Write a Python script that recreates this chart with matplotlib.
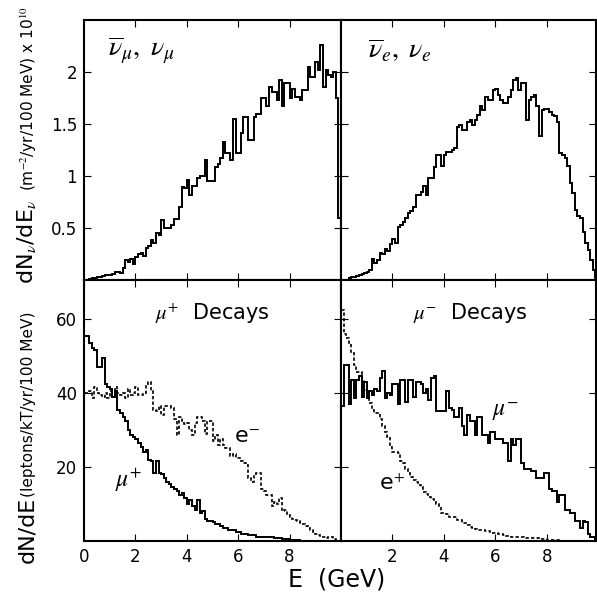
import matplotlib.pyplot as plt
import numpy as np

plt.rcParams['font.family'] = 'DejaVu Sans'
plt.rcParams['mathtext.fontset'] = 'stix'

# 100 MeV bins, 0 - 10 GeV
edges = np.linspace(0, 10, 101)

# neutrino fluxes (x 10^10 m^-2/yr/100 MeV)
numu = [0.0, 0.0, 0.01, 0.02, 0.02, 0.03, 0.03, 0.04, 0.05, 0.05,
        0.05, 0.06, 0.08, 0.08, 0.07, 0.12, 0.19, 0.17, 0.20, 0.15,
        0.22, 0.25, 0.26, 0.23, 0.31, 0.33, 0.38, 0.36, 0.45, 0.43,
        0.58, 0.50, 0.50, 0.50, 0.53, 0.59, 0.59, 0.70, 0.89, 0.88,
        0.96, 0.82, 0.90, 0.90, 0.98, 1.00, 1.00, 1.15, 0.95, 0.95,
        0.95, 1.09, 1.12, 1.17, 1.33, 1.22, 1.22, 1.15, 1.55, 1.22,
        1.22, 1.41, 1.57, 1.57, 1.35, 1.35, 1.57, 1.60, 1.60, 1.75,
        1.75, 1.67, 1.86, 1.81, 1.81, 1.73, 1.92, 1.67, 1.89, 1.89,
        1.75, 1.84, 1.76, 1.76, 1.73, 1.83, 1.83, 2.05, 1.95, 1.95,
        2.10, 2.02, 2.26, 1.86, 2.02, 1.97, 1.95, 2.00, 1.75, 0.60]
nue = [0.0, 0.0, 0.0, 0.02, 0.03, 0.03, 0.04, 0.05, 0.06, 0.07,
       0.08, 0.10, 0.20, 0.16, 0.19, 0.26, 0.25, 0.30, 0.28, 0.35,
       0.39, 0.36, 0.51, 0.53, 0.56, 0.60, 0.64, 0.66, 0.70, 0.82,
       0.82, 0.85, 0.90, 0.82, 0.98, 0.98, 1.09, 1.20, 1.20, 1.10,
       1.20, 1.23, 1.23, 1.25, 1.27, 1.47, 1.49, 1.44, 1.44, 1.52,
       1.54, 1.49, 1.54, 1.59, 1.67, 1.63, 1.76, 1.73, 1.73, 1.83,
       1.84, 1.78, 1.73, 1.70, 1.70, 1.76, 1.83, 1.92, 1.94, 1.83,
       1.89, 1.89, 1.54, 1.73, 1.76, 1.78, 1.67, 1.38, 1.63, 1.64,
       1.64, 1.62, 1.59, 1.58, 1.52, 1.22, 1.20, 1.17, 1.10, 0.93,
       0.84, 0.67, 0.62, 0.60, 0.46, 0.36, 0.29, 0.19, 0.10, 0.02]

# lepton spectra (leptons/kT/yr/100 MeV)
mup_mup = [55.5, 55.5, 53.5, 52, 51.5, 47, 47, 49.5, 42.5, 41.5,
           41, 39, 40.5, 35.5, 34.5, 33.5, 32.5, 30, 28.5, 28,
           27.5, 26.5, 25.5, 24, 24.5, 22, 21.5, 18.5, 21.5, 18.5,
           18, 17, 16, 15.5, 14.5, 14, 13.5, 12.5, 13, 11.5,
           10, 11, 9.5, 8.5, 11, 7.5, 8, 6, 5.5, 5.5,
           5, 4.5, 4.5, 4, 3.5, 3.5, 3, 3, 3, 2.5,
           2.5, 2, 2, 2, 1.5, 1.5, 1.5, 1, 1.2, 1,
           1, 1, 1.2, 1, 0.8, 0.8, 0.7, 0.6, 0.5, 0.5,
           0.4, 0.3, 0.2, 0.2, 0.1, 0.1, 0.1, 0, 0, 0,
           0, 0, 0, 0, 0, 0, 0, 0, 0, 0]
mup_em = [40, 40, 40.5, 38.5, 41.5, 40, 39.5, 39, 40, 38.5,
          40.5, 39, 41.5, 40, 39.5, 40, 38.5, 41, 39.5, 40,
          41.5, 39.5, 39.5, 40, 42.5, 43, 40.5, 35.5, 35, 36.5,
          34, 36.5, 36.5, 36.5, 36, 33, 28.5, 33.5, 32.5, 31.5,
          32, 30, 28.5, 32, 33.5, 33.5, 32.5, 29, 32.5, 32.5,
          27, 28.5, 26, 27.5, 26, 25, 25, 23, 23.5, 22.5,
          22.5, 21.5, 21, 20.5, 17, 16, 18, 18.5, 18.5, 14,
          13.5, 12.5, 12.5, 9.5, 10.5, 10, 11.5, 8, 8.5, 7,
          6.5, 6, 5.8, 5.5, 4.8, 4.5, 4, 3.6, 3, 2.5,
          2, 1.5, 1, 1, 0.8, 1, 1, 0.5, 0, 0]
mum_mum = [36.5, 47.5, 47.5, 37, 43.5, 38.5, 43.5, 44.5, 39, 43,
           38.5, 40.5, 39.5, 41, 40.5, 44, 46, 38.5, 40, 39.5,
           42.5, 42.5, 37, 43.5, 43.5, 37.5, 43.5, 43.5, 39, 43,
           43, 42.5, 40, 41, 38, 44, 44.5, 35, 35, 35,
           35, 40.5, 36, 35.5, 33.5, 33.5, 36, 31, 28.5, 34,
           32.5, 32.5, 28.5, 33.5, 33.5, 28.5, 28.5, 26.5, 29.5, 29.5,
           27.5, 27.5, 27.5, 26.5, 26.5, 21.5, 27.5, 26, 27.5, 27.5,
           21, 19.5, 19.5, 19.5, 19, 19, 17, 17, 17, 18.5,
           18.5, 14, 13.5, 13.5, 10.5, 12.5, 12.5, 8.5, 8.5, 7.5,
           7.5, 5.5, 5.5, 3.5, 5.5, 5, 2, 1, 1, 0.2]
mum_ep = [62.5, 56, 54.8, 53.4, 50.7, 47.6, 45.7, 45.7, 43.5, 40.8,
          39, 37.2, 35.4, 34.5, 34.5, 33, 31, 29.5, 28.2, 25.5,
          24.1, 24.1, 23.7, 21.5, 21, 19.5, 18.3, 17.4, 16.5, 16,
          15.1, 14.5, 13.3, 12.8, 12, 11.3, 10.6, 10, 9.3, 7.5,
          7.5, 7.2, 6.6, 6.6, 6.6, 5.7, 5.7, 4.8, 4.8, 4.2,
          3.9, 3.5, 3.2, 3.0, 3.0, 3.0, 2.8, 2.6, 2.2, 2.1,
          2.1, 2.0, 1.8, 1.5, 1.4, 1.3, 1.2, 1.2, 1.1, 1.1,
          1.0, 0.9, 0.8, 0.8, 0.8, 0.7, 0.7, 0.6, 0.5, 0.5,
          0.4, 0.3, 0.3, 0.2, 0.2, 0.1, 0.1, 0, 0, 0,
          0, 0, 0, 0, 0, 0, 0, 0, 0, 0]

W, H = 597, 601
fig = plt.figure(figsize=(W / 100, H / 100), dpi=100)


def box(l, t, r, b):
    return [l / W, 1 - b / H, (r - l) / W, (b - t) / H]


ax_tl = fig.add_axes(box(84, 20, 341, 280))
ax_tr = fig.add_axes(box(341, 20, 596, 280))
ax_bl = fig.add_axes(box(84, 280, 341, 541))
ax_br = fig.add_axes(box(341, 280, 596, 541))

solid = dict(color='black', lw=1.4)
dashed = dict(color='black', lw=1.2, linestyle=(0, (2, 1.3)))

ax_tl.stairs(numu, edges, **solid)
ax_tr.stairs(nue, edges, **solid)
ax_bl.stairs(mup_mup, edges, **solid)
ax_bl.stairs(mup_em, edges, **dashed)
ax_br.stairs(mum_mum, edges, **solid)
ax_br.stairs(mum_ep, edges, **dashed)

for ax in (ax_tl, ax_tr, ax_bl, ax_br):
    ax.tick_params(direction='in', top=True, right=True, length=5,
                   width=0.8, labelsize=12, pad=5)
    for s in ax.spines.values():
        s.set_linewidth(1.5)

for ax in (ax_tl, ax_tr):
    ax.set_ylim(0, 2.5)
    ax.set_yticks([0.5, 1, 1.5, 2])
    ax.set_xticks([2, 4, 6, 8])
    ax.tick_params(labelbottom=False)
ax_tl.set_yticklabels(['0.5', '1', '1.5', '2'])
ax_tl.set_xlim(0, 10)
ax_tr.set_xlim(0, 9.92)
ax_tr.tick_params(labelleft=False)

for ax in (ax_bl, ax_br):
    ax.set_ylim(0, 70.5)
    ax.set_yticks([20, 40, 60])
ax_bl.set_xlim(0, 10)
ax_bl.set_xticks([0, 2, 4, 6, 8])
ax_br.set_xlim(0, 9.92)
ax_br.set_xticks([2, 4, 6, 8])
ax_br.tick_params(labelleft=False)

# panel labels
ax_tl.text(2.25, 2.21, r'$\overline{\nu}_{\mu},\ \nu_{\mu}$', fontsize=20,
           ha='center', va='center')
ax_tr.text(2.3, 2.21, r'$\overline{\nu}_{e},\ \nu_{e}$', fontsize=20,
           ha='center', va='center')
ax_bl.text(4.98, 61.6, r'$\mu^{+}$  Decays', fontsize=15, ha='center', va='center')
ax_br.text(5.02, 61.6, r'$\mu^{-}$  Decays', fontsize=15, ha='center', va='center')
ax_bl.text(6.34, 28.0, r'e$^{-}$', fontsize=16, ha='center', va='center')
ax_bl.text(1.75, 16.5, r'$\mu^{+}$', fontsize=17, ha='center', va='center')
ax_br.text(6.39, 35.0, r'$\mu^{-}$', fontsize=17, ha='center', va='center')
ax_br.text(2.0, 15.5, r'e$^{+}$', fontsize=16, ha='center', va='center')

# axis labels
fig.text(337 / W, 1 - 580 / H, 'E  (GeV)', fontsize=17, ha='center', va='center')
fig.text(27 / W, 1 - 284 / H, r'dN$_{\nu}$/dE$_{\nu}$', fontsize=16,
         rotation=90, ha='center', va='bottom')
fig.text(29 / W, 1 - 191 / H, r'(m$^{-2}$/yr/100 MeV) x 10$^{10}$', fontsize=11.1,
         rotation=90, ha='center', va='bottom')
fig.text(27 / W, 1 - 563 / H, 'dN/dE', fontsize=16,
         rotation=90, ha='center', va='bottom')
fig.text(29 / W, 1 - 497 / H, '(leptons/kT/yr/100 MeV)', fontsize=11.1,
         rotation=90, ha='center', va='bottom')

fig.savefig('out.png', dpi=100)
